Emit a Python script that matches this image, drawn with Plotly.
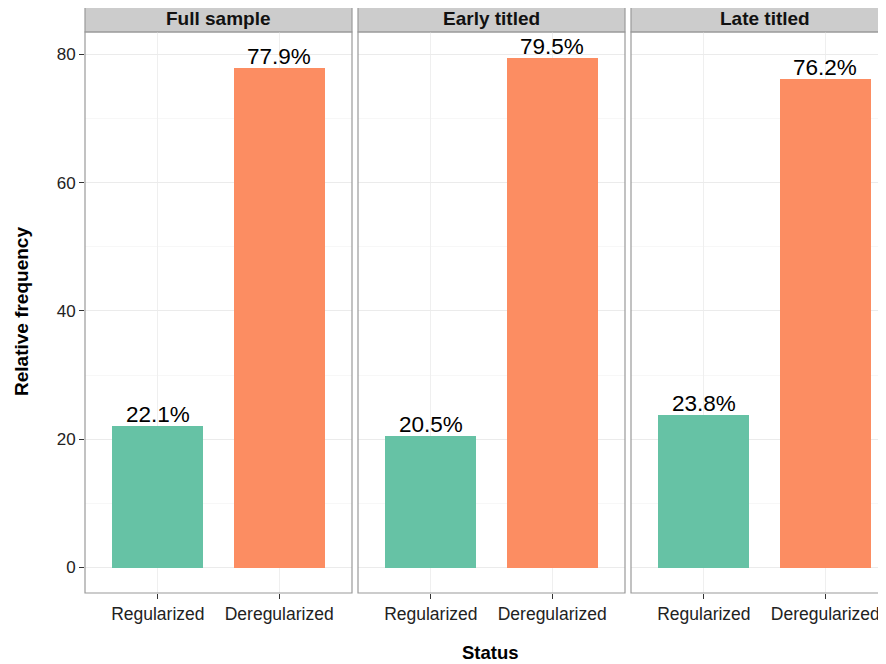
import plotly.graph_objects as go

panels = ["Full sample", "Early titled", "Late titled"]
categories = ["Regularized", "Deregularized"]
regularized = [22.1, 20.5, 23.8]
deregularized = [77.9, 79.5, 76.2]
colors = ["#66C2A5", "#FC8D62"]
y_ticks = [0, 20, 40, 60, 80]

# page has an 8px body margin; figure is sized so its right/bottom edges meet the window
OFF = 8
W, H = 886 - OFF, 664 - OFF
px_x = [(85, 352), (358, 625), (631, 886)]
x_ranges = [[-0.6, 1.6], [-0.6, 1.6], [-0.6, 1.5]]
top_px, bot_px = 32, 593
strip_top_px = 5

def fx(p):
    return (p - OFF) / W

def fy(p):
    return 1 - (p - OFF) / H

fig = go.Figure()
annotations = []
shapes = []
font = "Liberation Sans, Arial, sans-serif"
border = "#9a9a9a"

for i, name in enumerate(panels):
    sfx = "" if i == 0 else str(i + 1)
    vals = [regularized[i], deregularized[i]]
    fig.add_trace(go.Bar(
        x=categories, y=vals, width=0.75,
        marker=dict(color=colors, line=dict(width=0)),
        xaxis="x" + sfx, yaxis="y" + sfx, showlegend=False,
        hoverinfo="x+y",
    ))
    for c, v in zip(categories, vals):
        annotations.append(dict(
            x=c, y=v, xref="x" + sfx, yref="y" + sfx,
            text=f"{v:.1f}%", showarrow=False, yanchor="bottom",
            yshift=-3, font=dict(size=22.5, color="#000000", family=font),
        ))
    d0, d1 = fx(px_x[i][0]), min(1.0, fx(px_x[i][1]))
    fig.update_layout(**{
        "xaxis" + sfx: dict(
            domain=[d0, d1], anchor="y" + sfx, type="category",
            range=x_ranges[i], showgrid=True, gridcolor="#efefef",
            gridwidth=1, ticks="outside", ticklen=5, tickcolor="#333333",
            tickfont=dict(size=17.5, color="#222222", family=font),
            showline=False, zeroline=False, fixedrange=True,
        ),
        "yaxis" + sfx: dict(
            domain=[fy(bot_px), fy(top_px)], anchor="x" + sfx,
            range=[-3.975, 83.475], tickvals=y_ticks,
            showgrid=True, gridcolor="#ebebeb", gridwidth=1,
            minor=dict(dtick=10, tick0=0, showgrid=True, gridcolor="#f7f7f7", ticks=""),
            ticks="outside" if i == 0 else "", ticklen=5, tickcolor="#333333",
            showticklabels=(i == 0),
            tickfont=dict(size=17, color="#222222", family=font),
            showline=False, zeroline=False, fixedrange=True,
        ),
    })
    xr = "x" + sfx + " domain"
    if i < 2:
        shapes.append(dict(type="rect", xref=xr, yref="paper", x0=0, x1=1,
                           y0=fy(bot_px), y1=fy(top_px),
                           line=dict(color=border, width=1.2), layer="above"))
    else:
        shapes.append(dict(type="path", xref="paper", yref="paper",
                           path=f"M 1.002 {fy(top_px)} L {d0} {fy(top_px)} L {d0} {fy(bot_px)} L 1.002 {fy(bot_px)}",
                           line=dict(color=border, width=1.2), layer="above"))
    shapes.append(dict(type="rect", xref="paper", yref="paper", x0=d0, x1=d1 if i < 2 else 1.002,
                       y0=fy(top_px), y1=fy(strip_top_px),
                       fillcolor="#cccccc", line=dict(color=border, width=1.2), layer="below"))
    annotations.append(dict(
        x=(d0 + fx(px_x[i][0] + 267)) / 2, y=(fy(top_px) + fy(strip_top_px)) / 2,
        xref="paper", yref="paper", text=f"<b>{name}</b>", showarrow=False,
        xanchor="center", yanchor="middle",
        font=dict(size=19, color="#111111", family=font),
    ))

annotations.append(dict(x=fx(490), y=fy(652), xref="paper", yref="paper",
                        text="<b>Status</b>", showarrow=False, xanchor="center", yanchor="middle",
                        font=dict(size=18.5, color="#000000", family=font)))
annotations.append(dict(x=fx(21), y=fy(312), xref="paper", yref="paper",
                        text="<b>Relative frequency</b>", showarrow=False, textangle=-90,
                        xanchor="center", yanchor="middle",
                        font=dict(size=19, color="#000000", family=font)))

fig.update_layout(
    width=W, height=H, margin=dict(l=0, r=0, t=0, b=0),
    paper_bgcolor="white", plot_bgcolor="white",
    annotations=annotations, shapes=shapes, bargap=0,
    font=dict(family=font),
)

fig.write_html("out.html")
